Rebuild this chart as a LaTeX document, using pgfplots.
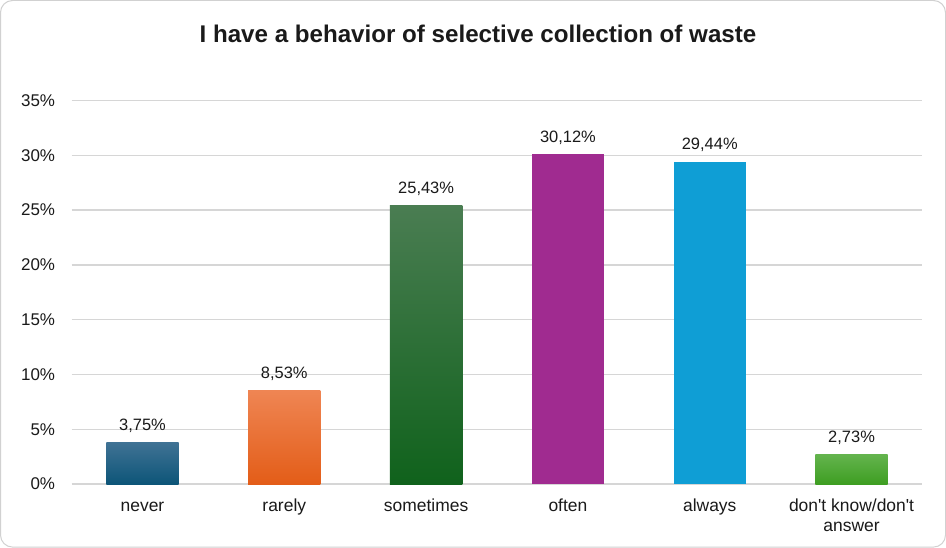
\documentclass[border=0pt]{standalone}
\usepackage{pgfplots}
\pgfplotsset{compat=1.18}
\usepackage{fontspec}
\setmainfont{Liberation Sans}
\definecolor{neverT}{HTML}{3F7294}
\definecolor{neverB}{HTML}{0D5578}
\definecolor{rarelyT}{HTML}{EF8553}
\definecolor{rarelyB}{HTML}{E35D18}
\definecolor{someT}{HTML}{4A7D52}
\definecolor{someB}{HTML}{10621C}
\definecolor{oftenC}{HTML}{A02B90}
\definecolor{alwaysC}{HTML}{0F9ED5}
\definecolor{dkT}{HTML}{64B44E}
\definecolor{dkB}{HTML}{3E9E22}
\definecolor{txt}{HTML}{1A1A1A}
\newcommand{\aq}{\XeTeXglyph\XeTeXcharglyph"27\relax}
\begin{document}
\begin{tikzpicture}
\draw[rounded corners=12bp, draw=black!18, line width=1bp, fill=white] (-71bp,-63bp) rectangle (873bp,483bp);
\begin{axis}[
  scale only axis, width=850bp, height=383bp,
  at={(0,0)}, anchor=south west,
  xmin=-0.5, xmax=5.5, ymin=0, ymax=35,
  ytick={0,5,...,35},
  yticklabels={0\%,5\%,10\%,15\%,20\%,25\%,30\%,35\%},
  xtick={0,...,5},
  xticklabels={\strut never, \strut rarely, \strut sometimes, \strut often, \strut always, {\strut don\aq t know/don\aq t\\\strut answer}},
  xticklabel style={align=center, font=\fontsize{17.5}{20}\selectfont, text=txt, anchor=north, yshift=-10bp},
  yticklabel style={font=\fontsize{17}{20}\selectfont, text=txt, xshift=-13bp},
  major tick length=0pt,
  axis line style={draw=none},
  ymajorgrids, grid style={draw=black!16, line width=1.3bp},
  bar width=0.51,
  nodes near coords={\pgfmathprintnumber[fixed, fixed zerofill, precision=2, use comma, assume math mode=true]{\pgfplotspointmeta}\%},
  nodes near coords style={font=\fontsize{16.5}{20}\selectfont, text=txt, anchor=base, yshift=12bp, inner sep=0pt},
  clip=false,
]
\addplot[ybar, draw=none, top color=neverT, bottom color=neverB] coordinates {(0,3.75)};
\addplot[ybar, draw=none, top color=rarelyT, bottom color=rarelyB] coordinates {(1,8.53)};
\addplot[ybar, draw=none, top color=someT, bottom color=someB] coordinates {(2,25.43)};
\addplot[ybar, draw=none, fill=oftenC] coordinates {(3,30.12)};
\addplot[ybar, draw=none, fill=alwaysC] coordinates {(4,29.44)};
\addplot[ybar, draw=none, top color=dkT, bottom color=dkB] coordinates {(5,2.73)};
\end{axis}
\node[font=\bfseries\fontsize{24.2}{26}\selectfont, text=txt] at (406bp,450bp) {I have a behavior of selective collection of waste};
\end{tikzpicture}
\end{document}
